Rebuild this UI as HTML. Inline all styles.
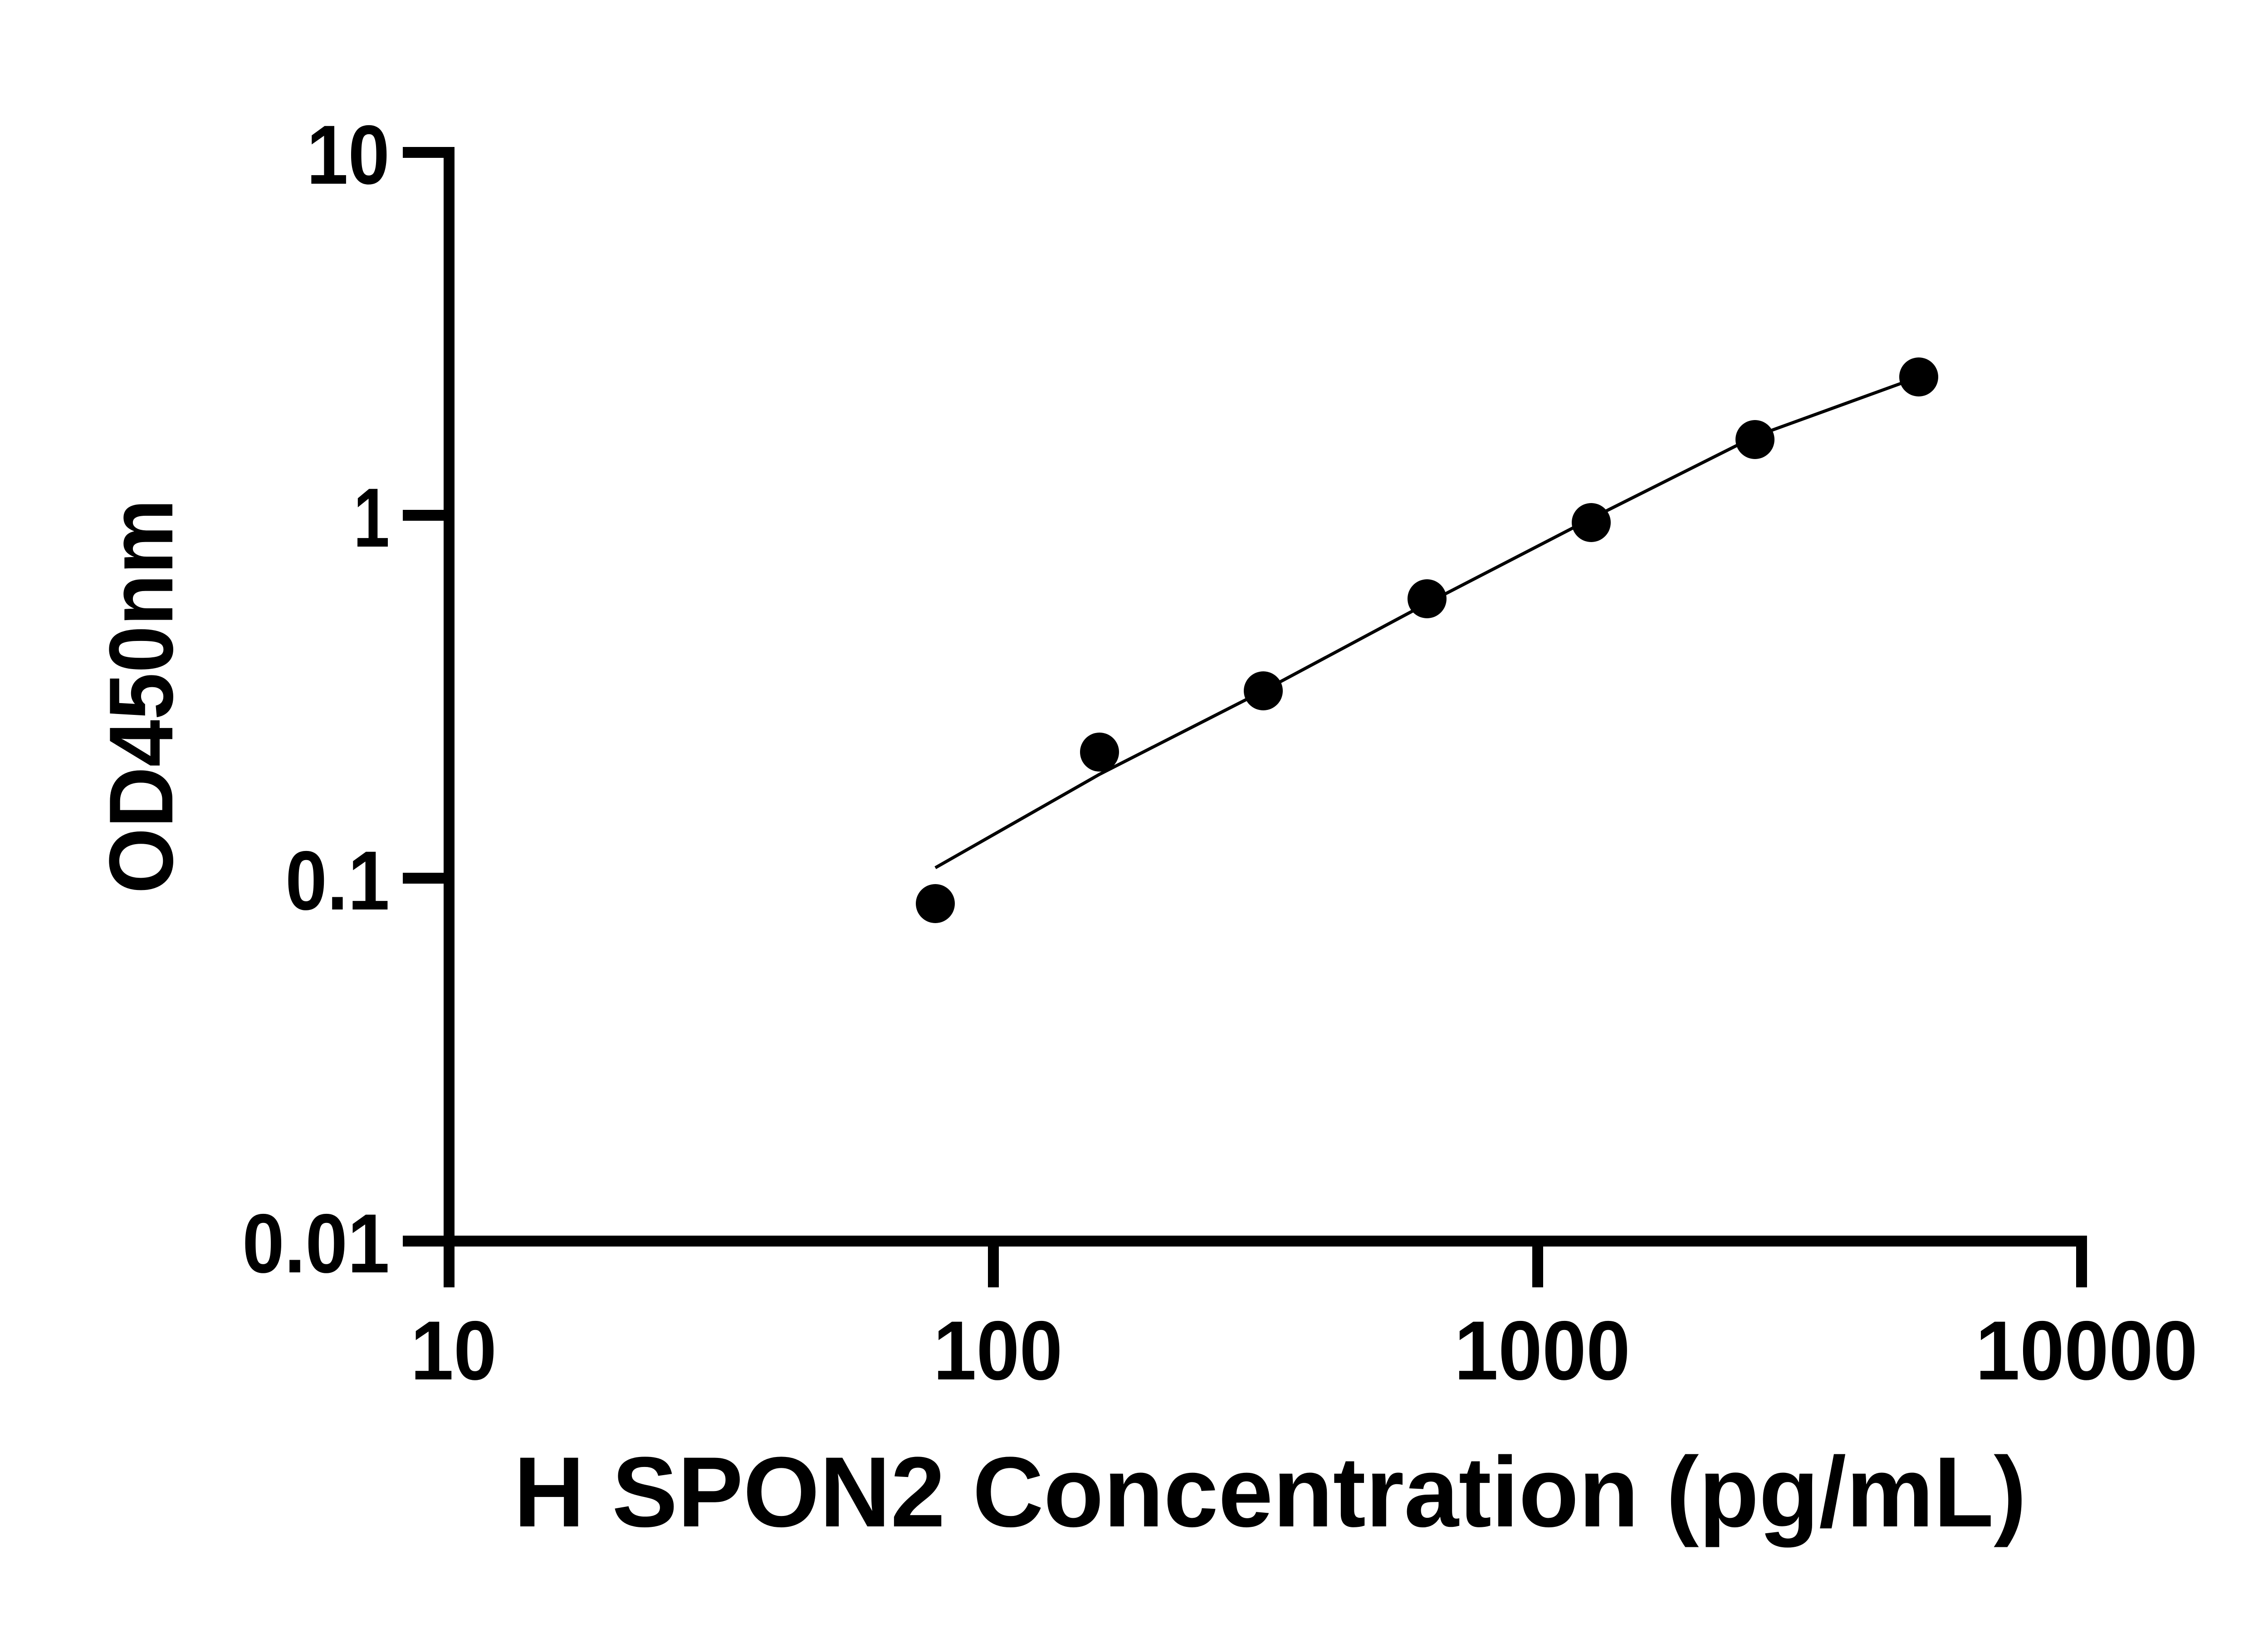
<!DOCTYPE html>
<html><head><meta charset="utf-8"><style>html,body{margin:0;padding:0;background:#fff}svg{display:block}</style></head>
<body>
<svg width="5142" height="3600" viewBox="0 0 5142 3600" xmlns="http://www.w3.org/2000/svg">
<rect width="5142" height="3600" fill="#fff"/>
<g stroke="#000" stroke-width="24" fill="none" stroke-linecap="butt">
  <line x1="990" y1="324" x2="990" y2="2748"/>
  <line x1="978" y1="2736" x2="4601" y2="2736"/>
  <line x1="888" y1="336" x2="1002" y2="336"/>
  <line x1="888" y1="1136" x2="990" y2="1136"/>
  <line x1="888" y1="1936" x2="990" y2="1936"/>
  <line x1="888" y1="2736" x2="990" y2="2736"/>
  <line x1="990" y1="2736" x2="990" y2="2838"/>
  <line x1="2190" y1="2736" x2="2190" y2="2838"/>
  <line x1="3390" y1="2736" x2="3390" y2="2838"/>
  <line x1="4589" y1="2724" x2="4589" y2="2838"/>
</g>
<g font-family="Liberation Sans, Arial, sans-serif" font-weight="bold" font-size="185" fill="#000" text-anchor="end">
  <text x="859" y="405" textLength="183" lengthAdjust="spacingAndGlyphs">10</text>
  <text x="859" y="1205" textLength="80" lengthAdjust="spacingAndGlyphs">1</text>
  <text x="859" y="2005" textLength="230" lengthAdjust="spacingAndGlyphs">0.1</text>
  <text x="859" y="2805" textLength="325" lengthAdjust="spacingAndGlyphs">0.01</text>
</g>
<g font-family="Liberation Sans, Arial, sans-serif" font-weight="bold" font-size="185" fill="#000" text-anchor="middle">
  <text x="1000" y="3041" textLength="190" lengthAdjust="spacingAndGlyphs">10</text>
  <text x="2200" y="3041" textLength="285" lengthAdjust="spacingAndGlyphs">100</text>
  <text x="3400" y="3041" textLength="388" lengthAdjust="spacingAndGlyphs">1000</text>
  <text x="4600" y="3041" textLength="490" lengthAdjust="spacingAndGlyphs">10000</text>
</g>
<text x="2800" y="3365" font-family="Liberation Sans, Arial, sans-serif" font-weight="bold" font-size="220" text-anchor="middle" textLength="3335" lengthAdjust="spacingAndGlyphs">H SPON2 Concentration (pg/mL)</text>
<text transform="translate(380,1535) rotate(-90)" font-family="Liberation Sans, Arial, sans-serif" font-weight="bold" font-size="200" text-anchor="middle" textLength="870" lengthAdjust="spacingAndGlyphs">OD450nm</text>
<polyline fill="none" stroke="#000" stroke-width="7" points="2062,1913 2424,1707 2785,1523 3146,1330 3508,1143 3869,962 4230,831"/>
<g fill="#000">
  <circle cx="2062" cy="1992" r="43"/>
  <circle cx="2424" cy="1658" r="43"/>
  <circle cx="2785" cy="1523" r="43"/>
  <circle cx="3146" cy="1320" r="43"/>
  <circle cx="3508" cy="1152" r="43"/>
  <circle cx="3869" cy="969" r="43"/>
  <circle cx="4230" cy="831" r="43"/>
</g>
</svg>
</body></html>
